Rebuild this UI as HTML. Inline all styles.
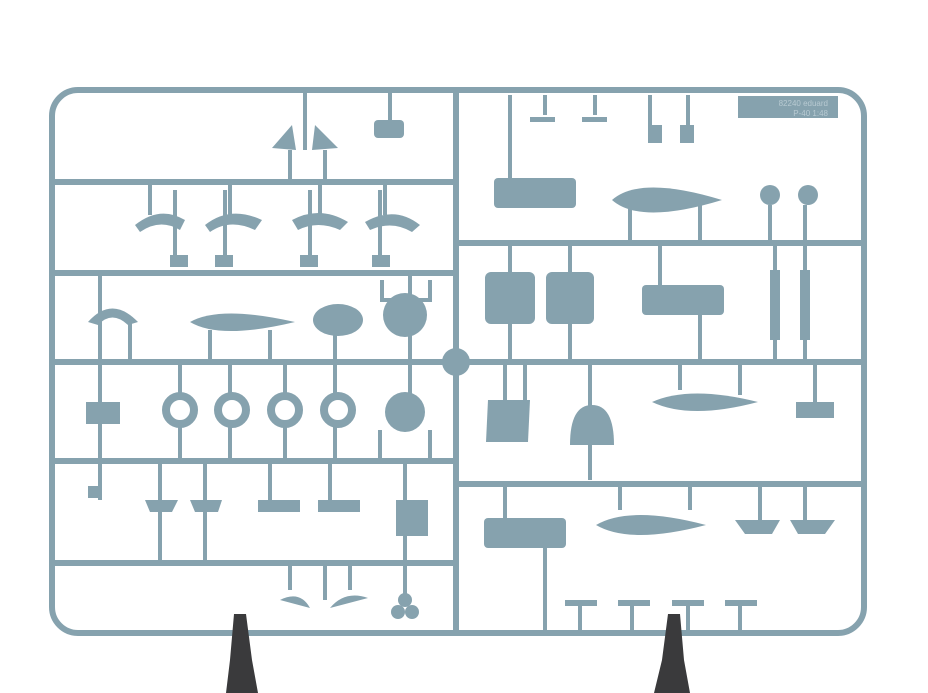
<!DOCTYPE html>
<html><head><meta charset="utf-8"><style>
html,body{margin:0;padding:0;background:#fff;width:928px;height:693px;overflow:hidden}
svg{display:block}
</style></head><body>
<svg width="928" height="693" viewBox="0 0 928 693" xmlns="http://www.w3.org/2000/svg">
<g fill="none" stroke="#86a2ae" stroke-width="6" stroke-linecap="round">
<rect x="52" y="90" width="812" height="543" rx="26"/>
<line x1="456" y1="90" x2="456" y2="633"/>
<line x1="52" y1="182" x2="456" y2="182"/>
<line x1="52" y1="273" x2="456" y2="273"/>
<line x1="52" y1="362" x2="864" y2="362"/>
<line x1="52" y1="461" x2="456" y2="461"/>
<line x1="52" y1="563" x2="456" y2="563"/>
<line x1="456" y1="243" x2="864" y2="243"/>
<line x1="456" y1="484" x2="864" y2="484"/>
</g>
<g fill="none" stroke="#86a2ae" stroke-width="4">
<!-- gates -->
<path d="M305 92V150M390 92V120M290 150V182M325 150V182M175 190V260M225 190V260M310 190V260M380 190V260M150 182V215M230 182V215M320 182V215M385 182V215"/>
<path d="M100 273V362M130 320V362M210 330V362M270 330V362M335 330V362M410 273V362M382 280V300H430V280"/>
<path d="M100 362V500M180 362V395M230 362V395M285 362V395M335 362V395M180 425V461M230 425V461M285 425V461M335 425V461M410 362V395M380 430V461M430 430V461"/>
<path d="M160 461V560M205 461V560M270 461V500M330 461V500M405 461V600M290 563V590M325 563V600M350 563V590"/>
<path d="M510 95V180M545 95V115M595 95V115M650 95V130M688 95V130M630 205V243M700 205V243M770 205V243M805 205V243"/>
<path d="M510 243V275M570 243V275M660 243V290M775 243V360M805 243V360M510 320V362M570 320V362M700 310V362"/>
<path d="M505 362V410M525 362V410M590 362V410M680 362V390M740 362V395M815 362V410M590 440V480"/>
<path d="M505 484V520M545 540V633M620 484V510M690 484V510M760 484V520M805 484V520M580 600V633M632 600V633M688 600V633M740 600V633"/>
</g>
<g fill="#86a2ae">
<rect x="738" y="96" width="100" height="22"/>
<text x="828" y="106" font-family="Liberation Sans" font-size="8" fill="#b8cad2" text-anchor="end">82240 eduard</text>
<text x="828" y="116" font-family="Liberation Sans" font-size="8" fill="#b8cad2" text-anchor="end">P-40 1:48</text>
<rect x="374" y="120" width="30" height="18" rx="4"/>
<path d="M272 148L292 125L296 150ZM315 125L338 148L312 150Z"/>
<g><path d="M135 225Q160 205 185 220L180 230Q160 218 140 232Z"/><path d="M205 225Q230 205 262 220L255 230Q230 218 210 232Z"/><path d="M292 220Q320 205 348 222L340 230Q318 220 298 230Z"/><path d="M365 222Q395 205 420 225L412 232Q392 220 370 230Z"/></g>
<rect x="170" y="255" width="18" height="12"/><rect x="215" y="255" width="18" height="12"/><rect x="300" y="255" width="18" height="12"/><rect x="372" y="255" width="18" height="12"/>
<path d="M88 322Q112 295 138 322L128 325Q112 310 98 325Z"/>
<path d="M190 322Q220 305 295 322Q220 340 190 322Z"/>
<ellipse cx="338" cy="320" rx="25" ry="16"/>
<circle cx="405" cy="315" r="22"/>
<circle cx="456" cy="362" r="14"/>
<g fill="none" stroke="#86a2ae" stroke-width="8"><circle cx="180" cy="410" r="14"/><circle cx="232" cy="410" r="14"/><circle cx="285" cy="410" r="14"/><circle cx="338" cy="410" r="14"/></g>
<rect x="86" y="402" width="34" height="22"/>
<circle cx="405" cy="412" r="20"/>
<rect x="88" y="486" width="12" height="12"/>
<path d="M145 500H178L172 512H150ZM190 500H222L218 512H195Z"/>
<rect x="258" y="500" width="42" height="12"/><rect x="318" y="500" width="42" height="12"/>
<path d="M396 500H428V536H396Z"/>
<path d="M280 600Q300 590 310 608ZM330 608Q345 590 368 598Z"/>
<circle cx="398" cy="612" r="7"/><circle cx="412" cy="612" r="7"/><circle cx="405" cy="600" r="7"/>
<rect x="530" y="117" width="25" height="5"/><rect x="582" y="117" width="25" height="5"/><rect x="648" y="125" width="14" height="18"/><rect x="680" y="125" width="14" height="18"/>
<rect x="494" y="178" width="82" height="30" rx="4"/>
<path d="M612 200Q640 175 722 200Q640 225 612 200Z"/>
<circle cx="770" cy="195" r="10"/><circle cx="808" cy="195" r="10"/>
<rect x="485" y="272" width="50" height="52" rx="6"/><rect x="546" y="272" width="48" height="52" rx="6"/>
<rect x="642" y="285" width="82" height="30" rx="4"/>
<rect x="770" y="270" width="10" height="70"/><rect x="800" y="270" width="10" height="70"/>
<path d="M488 400H530L528 442H486Z"/>
<path d="M570 445Q570 405 592 405Q614 405 614 445Z"/>
<path d="M652 402Q690 385 758 402Q690 420 652 402Z"/>
<rect x="796" y="402" width="38" height="16"/>
<rect x="484" y="518" width="82" height="30" rx="4"/>
<path d="M596 525Q630 505 706 525Q630 545 596 525Z"/>
<path d="M735 520H780L772 534H745ZM790 520H835L825 534H798Z"/>
<rect x="565" y="600" width="32" height="6"/><rect x="618" y="600" width="32" height="6"/><rect x="672" y="600" width="32" height="6"/><rect x="725" y="600" width="32" height="6"/>
</g>
<g fill="#3a3a3c">
<path d="M234 614H246L252 660L258 693H226L230 660Z"/>
<path d="M668 614H680L684 660L690 693H654L662 660Z"/>
</g>
</svg>
</body></html>
